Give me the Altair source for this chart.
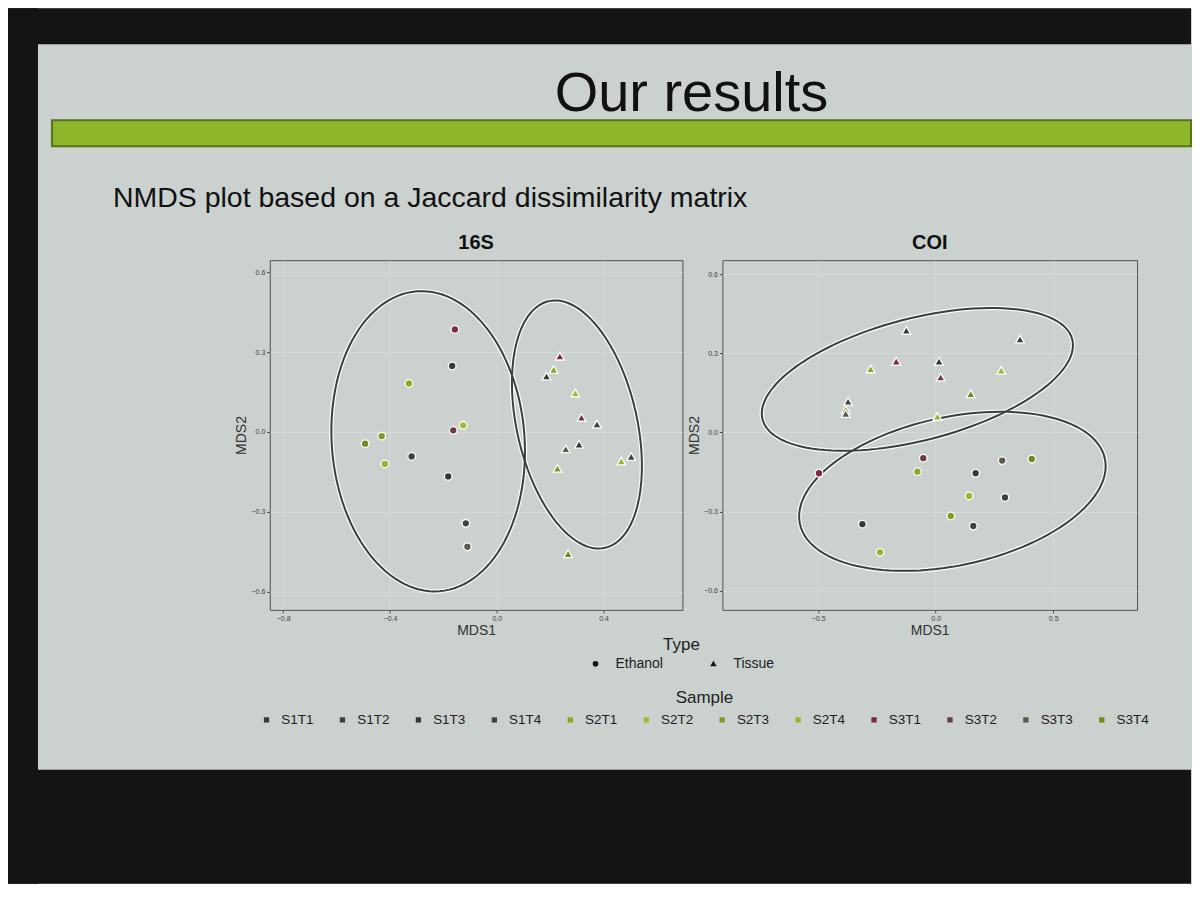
import altair as alt
import pandas as pd
import numpy as np

# ---------------- data ----------------
samples = ["S1T1", "S1T2", "S1T3", "S1T4", "S2T1", "S2T2", "S2T3", "S2T4",
           "S3T1", "S3T2", "S3T3", "S3T4"]
sample_colors = ["#353b3c", "#3b4142", "#32393a", "#3e4445",
                 "#8aab1f", "#a3b833", "#7e9c22", "#94b52c",
                 "#7d2945", "#6c3a40", "#595a48", "#6f8c1c"]
types = ["Ethanol", "Tissue"]
type_shapes = ["circle", "M0,-1.1L1.15,0.9L-1.15,0.9Z"]

# 16S panel (values in sample order)
s16_eth_x = [-0.167, -0.319, -0.182, -0.116, -0.329, -0.126, -0.431, -0.419, -0.157, -0.163, -0.110, -0.493]
s16_eth_y = [0.248, -0.092, -0.167, -0.343, 0.182, 0.025, -0.016, -0.120, 0.385, 0.006, -0.431, -0.044]
s16_tis_x = [0.186, 0.375, 0.308, 0.503, 0.213, 0.294, 0.227, 0.466, 0.236, 0.317, 0.258, 0.267]
s16_tis_y = [0.208, 0.028, -0.048, -0.094, 0.233, 0.145, -0.138, -0.111, 0.283, 0.053, -0.065, -0.459]

# COI panel
coi_eth_x = [0.170, 0.295, -0.312, 0.160, -0.078, 0.142, 0.064, -0.237, -0.497, -0.053, 0.283, 0.409]
coi_eth_y = [-0.155, -0.247, -0.348, -0.355, -0.149, -0.241, -0.317, -0.455, -0.155, -0.098, -0.107, -0.101]
coi_tis_x = [-0.125, 0.359, 0.014, -0.373, -0.277, 0.279, -0.383, 0.007, -0.168, 0.021, -0.383, 0.149]
coi_tis_y = [0.385, 0.352, 0.268, 0.116, 0.239, 0.234, 0.085, 0.059, 0.268, 0.208, 0.070, 0.145]

# 95% ellipses: centre, first and second semi-axis vectors (data units)
ell_16s = {"Ethanol": [-0.257, -0.035, -0.042, 0.563, 0.360, 0.027],
           "Tissue": [0.300, 0.028, -0.106, 0.463, 0.219, 0.051]}
ell_coi = {"Tissue": [-0.078, 0.201, 0.659, 0.152, 0.065, -0.224],
           "Ethanol": [0.071, -0.2235, 0.649, 0.124, 0.0665, -0.275]}

x_ticks_16s = [-0.8, -0.4, 0.0, 0.4]
x_ticks_coi = [-0.5, 0.0, 0.5]
y_ticks = [-0.6, -0.3, 0.0, 0.3, 0.6]

slide_title = "Our results"
slide_subtitle = "NMDS plot based on a Jaccard dissimilarity matrix"

# ---------------- helpers ----------------
def points_df(ex, ey, tx, ty):
    rows = []
    for s, x, y in zip(samples, ex, ey):
        rows.append({"MDS1": x, "MDS2": y, "Sample": s, "Type": "Ethanol"})
    for s, x, y in zip(samples, tx, ty):
        rows.append({"MDS1": x, "MDS2": y, "Sample": s, "Type": "Tissue"})
    return pd.DataFrame(rows)


def ellipse_df(params):
    t = np.linspace(0, 2 * np.pi, 121)
    rows = []
    for name, (cx, cy, ux, uy, vx, vy) in params.items():
        for i, a in enumerate(t):
            rows.append({"MDS1": cx + ux * np.cos(a) + vx * np.sin(a),
                         "MDS2": cy + uy * np.cos(a) + vy * np.sin(a),
                         "e": name, "i": i})
    return pd.DataFrame(rows)


BG = "#cad1cf"
FONT = "Liberation Sans"

color_enc = alt.Color("Sample:N",
                      scale=alt.Scale(domain=samples, range=sample_colors),
                      legend=alt.Legend(orient="none", legendX=252, legendY=682,
                                        direction="horizontal", title="Sample",
                                        titleAnchor="middle", titleFontSize=17,
                                        titleFontWeight="normal", titlePadding=6,
                                        symbolType="square", symbolSize=28,
                                        symbolStrokeWidth=0,
                                        labelFontSize=13.5, labelOffset=8,
                                        columnPadding=22))
shape_enc = alt.Shape("Type:N",
                      scale=alt.Scale(domain=types, range=type_shapes),
                      legend=alt.Legend(orient="none", legendX=581, legendY=629,
                                        direction="horizontal", title="Type",
                                        titleAnchor="middle", titleFontSize=17,
                                        titleFontWeight="normal", titlePadding=3,
                                        symbolSize=32, symbolFillColor="#151515",
                                        symbolStrokeWidth=0,
                                        labelFontSize=14, labelOffset=13,
                                        columnPadding=43))


def panel(title, pts, ell, xdom, xticks, ydom, width, height):
    xenc = alt.X("MDS1:Q", title="MDS1",
                 scale=alt.Scale(domain=xdom, nice=False, zero=False),
                 axis=alt.Axis(values=xticks, format=".1f"))
    yenc = alt.Y("MDS2:Q", title="MDS2",
                 scale=alt.Scale(domain=ydom, nice=False, zero=False),
                 axis=alt.Axis(values=y_ticks, format=".1f"))
    edata = ellipse_df(ell)
    halo = alt.Chart(edata).mark_line(color="white", strokeWidth=4.5, opacity=0.9).encode(
        x=xenc, y=yenc, detail="e:N", order="i:Q")
    line = alt.Chart(edata).mark_line(color="#394040", strokeWidth=2).encode(
        x=xenc, y=yenc, detail="e:N", order="i:Q")
    pts_layer = alt.Chart(points_df(*pts)).mark_point(
        filled=True, size=58, opacity=1, stroke="white", strokeWidth=1.3,
        color="#151515").encode(x=xenc, y=yenc, color=color_enc, shape=shape_enc)
    return alt.layer(halo, line, pts_layer).properties(
        width=width, height=height,
        title=alt.TitleParams(title, fontSize=20, fontWeight="bold", offset=7,
                              color="#111", font=FONT),
        view=alt.ViewBackground(fill=BG, stroke="#4d5353", strokeWidth=1))


p16 = panel("16S", (s16_eth_x, s16_eth_y, s16_tis_x, s16_tis_y), ell_16s,
            [-0.85, 0.695], x_ticks_16s, [-0.668, 0.645], 413, 350)
pcoi = panel("COI", (coi_eth_x, coi_eth_y, coi_tis_x, coi_tis_y), ell_coi,
             [-0.908, 0.857], x_ticks_coi, [-0.673, 0.653], 415, 350)

spacer = alt.Chart(alt.Data(values=[{"k": 0}])).mark_point(opacity=0, size=1).encode(
    x=alt.value(100), y=alt.value(100)).properties(
    width=222, height=350, view=alt.ViewBackground(strokeOpacity=0))

row = alt.hconcat(spacer, p16, pcoi, spacing=40, bounds="flush").resolve_scale(
    color="shared", shape="shared")

# ---------------- slide header ----------------
W = 1184
one = alt.Chart(alt.Data(values=[{"k": 0}]))
frame_top = one.mark_rect(color="#141414").encode(
    x=alt.value(0), x2=alt.value(W), y=alt.value(0), y2=alt.value(36))
frame_left = one.mark_rect(color="#141414").encode(
    x=alt.value(0), x2=alt.value(30), y=alt.value(0), y2=alt.value(876))
frame_bottom = one.mark_rect(color="#141414").encode(
    x=alt.value(0), x2=alt.value(W), y=alt.value(762), y2=alt.value(876))
band = one.mark_rect(color="#8db62b", stroke="#56731a", strokeWidth=2).encode(
    x=alt.value(44), x2=alt.value(W), y=alt.value(112), y2=alt.value(138))
title_txt = one.mark_text(fontSize=56, font=FONT, color="#111", align="center",
                          baseline="alphabetic").encode(
    x=alt.value(684), y=alt.value(103), text=alt.value(slide_title))
sub_txt = one.mark_text(fontSize=28.5, font=FONT, color="#111", align="left",
                        baseline="alphabetic").encode(
    x=alt.value(105), y=alt.value(199), text=alt.value(slide_subtitle))

header = alt.layer(frame_top, frame_left, frame_bottom, band, title_txt, sub_txt).properties(
    width=W, height=200, view=alt.ViewBackground(strokeOpacity=0))

chart = alt.vconcat(header, row, spacing=52, bounds="flush").resolve_scale(
    color="shared", shape="shared").properties(padding=0).configure(
    background=BG, font=FONT).configure_axis(
    labelFontSize=7, labelColor="#444", tickColor="#444", tickSize=3,
    labelPadding=2, titleFontSize=14, titleFontWeight="normal", titleColor="#333",
    titlePadding=2, domain=False, gridColor="#d6dcdb", gridWidth=0.8).configure_legend(
    labelColor="#222", titleColor="#222", labelFont=FONT, titleFont=FONT)

chart.save("out.html", embed_options={"renderer": "svg", "actions": False})
